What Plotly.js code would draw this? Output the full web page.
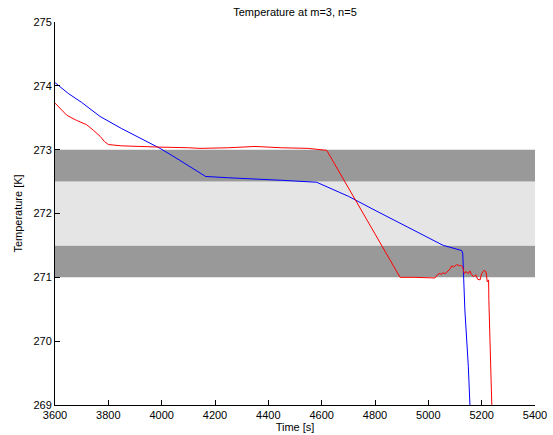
<!DOCTYPE html>
<html>
<head>
<meta charset="utf-8">
<script src="https://cdn.plot.ly/plotly-3.0.1.min.js"></script>
<style>html,body{margin:0;padding:0;background:#fff;}#chart{width:553px;height:435px;}</style>
</head>
<body>
<div id="chart"></div>
<script>
// Blue series (time [s], temperature [K])
const blueTime = [3600, 3650, 3700, 3769, 3850, 3900, 3994, 4050, 4100, 4144, 4165, 4250, 4331, 4450, 4581, 4700, 4800, 4900, 5000, 5056, 5100, 5125, 5129, 5134, 5137, 5150, 5156, 5159];
const blueTemp = [274.05, 273.88, 273.74, 273.52, 273.33, 273.22, 273.02, 272.88, 272.75, 272.63, 272.58, 272.56, 272.54, 272.52, 272.49, 272.27, 272.05, 271.83, 271.62, 271.50, 271.45, 271.42, 271.38, 270.9, 270.49, 269.6, 269.0, 268.7];

// Red series
const redTime = [3600, 3644, 3680, 3719, 3745, 3769, 3785, 3800, 3850, 3900, 3994, 4100, 4144, 4250, 4350, 4450, 4550, 4619, 4700, 4819, 4894, 4950, 5000, 5025, 5034, 5041, 5048, 5056, 5065, 5072, 5081, 5088, 5094, 5100, 5109, 5116, 5122, 5129, 5135, 5141, 5150, 5156, 5162, 5171, 5178, 5185, 5194, 5200, 5209, 5216, 5221, 5226, 5227, 5238, 5242];
const redTemp = [273.73, 273.54, 273.46, 273.39, 273.30, 273.21, 273.13, 273.08, 273.06, 273.05, 273.04, 273.03, 273.02, 273.03, 273.05, 273.03, 273.02, 272.99, 272.40, 271.53, 271.0, 271.0, 271.0, 270.99, 271.04, 271.06, 271.05, 271.07, 271.06, 271.09, 271.13, 271.18, 271.16, 271.18, 271.20, 271.18, 271.19, 271.16, 271.06, 271.09, 271.06, 271.10, 271.04, 271.01, 271.04, 270.97, 270.96, 271.06, 271.11, 271.09, 270.93, 270.96, 270.64, 269.0, 268.6];

// Bands (temperature ranges)
const bandLow = [271.0, 271.5, 272.5];
const bandHigh = [271.5, 272.5, 273.0];
const bandColor = ['#999999', '#e5e5e5', '#999999'];

const xTicks = [3600, 3800, 4000, 4200, 4400, 4600, 4800, 5000, 5200, 5400];
const yTicks = [269, 270, 271, 272, 273, 274, 275];

const shapes = bandLow.map((lo, i) => ({
  type: 'rect', xref: 'paper', yref: 'y', x0: 0, x1: 1, y0: lo, y1: bandHigh[i],
  fillcolor: bandColor[i], line: {width: 0}, layer: 'below'
}));

const traces = [
  {x: blueTime, y: blueTemp, type: 'scatter', mode: 'lines', line: {color: '#0000ff', width: 1}, hoverinfo: 'none'},
  {x: redTime, y: redTemp, type: 'scatter', mode: 'lines', line: {color: '#ff0000', width: 1}, hoverinfo: 'none'}
];

const font = {family: 'Liberation Sans, Arial, Helvetica, sans-serif', size: 11, color: '#000'};

const layout = {
  width: 553, height: 435,
  margin: {l: 55, r: 18, t: 22, b: 30, pad: 0},
  paper_bgcolor: '#fff', plot_bgcolor: '#fff',
  font: font,
  showlegend: false,
  title: {text: 'Temperature at m=3, n=5', font: font, x: 0.5, xref: 'paper', xanchor: 'center', y: 1 - 12/435, yref: 'container', yanchor: 'middle'},
  xaxis: {
    range: [3600, 5400], tickvals: xTicks, ticktext: xTicks.map(String),
    showgrid: false, zeroline: false, showline: true, linecolor: '#000', linewidth: 1,
    ticks: 'inside', ticklen: 5, tickcolor: '#000', mirror: false,
    title: {text: 'Time [s]', font: font, standoff: 2}, tickfont: font
  },
  yaxis: {
    range: [269, 275], tickvals: yTicks, ticktext: yTicks.map(String),
    showgrid: false, zeroline: false, showline: true, linecolor: '#000', linewidth: 1,
    ticks: 'inside', ticklen: 5, tickcolor: '#000', mirror: false,
    title: {text: 'Temperature [K]', font: font, standoff: 8}, tickfont: font
  },
  shapes: shapes
};

Plotly.newPlot('chart', traces, layout, {displayModeBar: false, staticPlot: true});
</script>
</body>
</html>
